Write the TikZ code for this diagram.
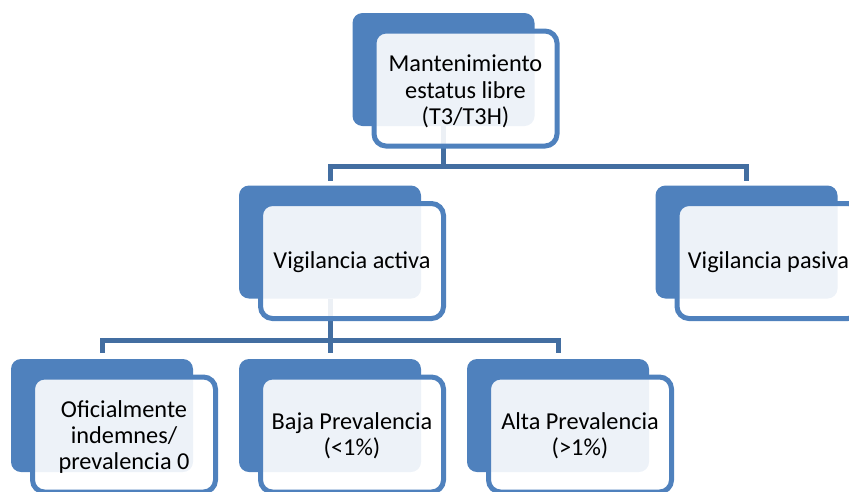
\documentclass[tikz,border=0pt]{standalone}
\usepackage{fontspec}
\setmainfont{Carlito}
\definecolor{accblue}{RGB}{79,129,189}
\definecolor{connblue}{RGB}{67,110,161}
\tikzset{
  backbox/.style={fill=accblue, rounded corners=10pt, minimum width=182pt, minimum height=113pt, inner sep=0pt, outer sep=0pt},
  frontbox/.style={draw=accblue, line width=5pt, fill=white, fill opacity=0.9, rounded corners=12pt, minimum width=183pt, minimum height=115pt, inner sep=0pt, outer sep=0pt},
  boxtext/.style={align=center, inner sep=0pt, font=\fontsize{24.3}{26.4}\selectfont},
  conn/.style={draw=connblue, line width=5pt}
}
\begin{document}
\begin{tikzpicture}[x=1pt,y=-1pt]
\useasboundingbox (0,0) rectangle (849,491);
% back boxes
\node[backbox] (b1) at (443.5,69.5) {};
\node[backbox] (b2) at (330,242) {};
\node[backbox] (b3) at (746.5,242) {};
\node[backbox] (b4) at (102,415.5) {};
\node[backbox] (b5) at (330,415.5) {};
\node[backbox] (b6) at (558,415.5) {};
% connectors
\draw[conn, shorten >=5pt] (b1.south) -- ++(0,40) -| (b2.north);
\draw[conn, shorten >=5pt] (b1.south) -- ++(0,40) -| (b3.north);
\draw[conn, shorten >=6pt] (b2.south) -- ++(0,42) -| (b4.north);
\draw[conn, shorten >=6pt] (b2.south) -- ++(0,42) -| (b5.north);
\draw[conn, shorten >=6pt] (b2.south) -- ++(0,42) -| (b6.north);
% front boxes
\node[frontbox] (f1) at (465.5,88.5) {};
\node[frontbox] (f2) at (352,261) {};
\node[frontbox] (f3) at (768.5,261) {};
\node[frontbox] (f4) at (124,434.5) {};
\node[frontbox] (f5) at (352,434.5) {};
\node[frontbox] (f6) at (580,434.5) {};
% texts
\node[boxtext] (t1) at ([yshift=-3pt]f1.center) {Mantenimiento\\estatus libre\\(T3/T3H)};
\node[boxtext] (t2) at ([yshift=-1pt]f2.center) {Vigilancia activa};
\node[boxtext] (t3) at ([yshift=-1pt]f3.center) {Vigilancia pasiva};
\node[boxtext] (t4) at ([yshift=-2.5pt]f4.center) {Oficialmente\\indemnes/\\prevalencia 0};
\node[boxtext] (t5) at ([yshift=-1.5pt]f5.center) {Baja Prevalencia\\(<1\%)};
\node[boxtext] (t6) at ([yshift=-1.5pt]f6.center) {Alta Prevalencia\\(>1\%)};
\end{tikzpicture}
\end{document}
